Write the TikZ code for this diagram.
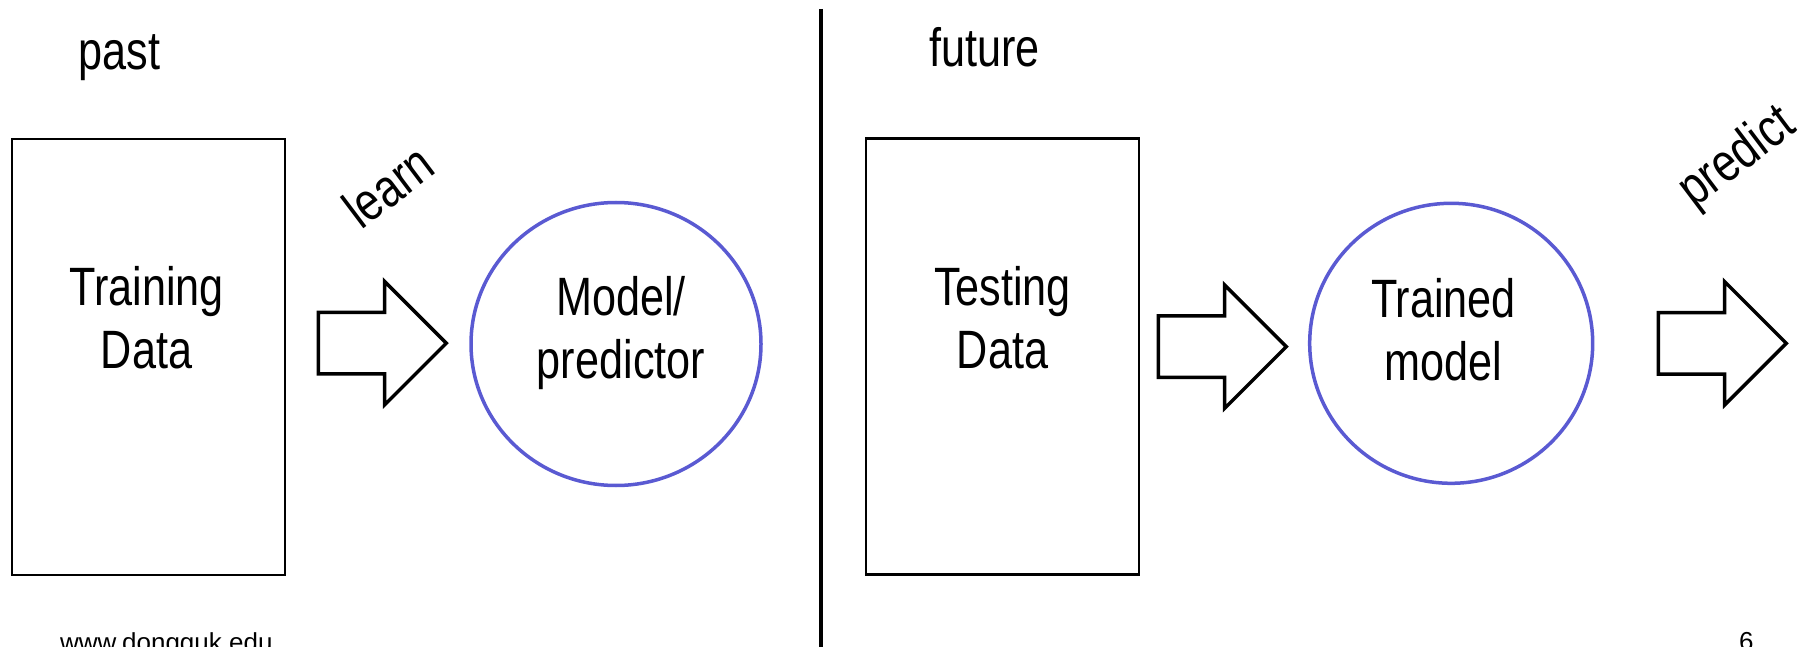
\documentclass[tikz,border=0pt]{standalone}
\usepackage{fontspec}
\setmainfont{Liberation Sans}[FakeStretch=0.8]
\newfontfamily\footfont{Liberation Sans}
\usetikzlibrary{shapes.geometric,shapes.arrows}
\definecolor{ringblue}{RGB}{90,90,210}

\begin{document}
\begin{tikzpicture}[x=1pt, y=-1pt,
  every node/.style={font=\fontsize{54}{63}\selectfont},
  databox/.style={rectangle, draw, line width=2.2pt, minimum width=273pt, minimum height=436pt},
  ring/.style={ellipse, draw=ringblue, line width=3.5pt},
  fatarrow/.style={single arrow, draw, line width=3.5pt, inner xsep=0pt, inner ysep=29pt,
    single arrow head extend=31pt, single arrow tip angle=90, minimum height=128pt},
  txt/.style={align=center, anchor=base},
  tilted/.style={rotate=37},
  foot/.style={font=\footfont\fontsize{26}{31}\selectfont, anchor=base}]
  \useasboundingbox (0,0) rectangle (1808,647);
  % Divider
  \coordinate (divtop) at (821,9);
  \coordinate (divbot) at (821,650);
  \draw[line width=4pt] (divtop) -- (divbot);
  % Past: learning
  \node[anchor=base west] (past) at (75,70) {past};
  \node[databox] (train) at (148.3,356.7) {};
  \node[txt] (traintxt) at (146.5,368.3) {Training\\Data};
  \node[fatarrow] (learnarrow) at (366.9,343.2) {};
  \node[tilted] (learn) at (388,186) {learn};
  \node[ring, minimum width=290pt, minimum height=283pt] (model) at (616,344) {};
  \node[txt] (modeltxt) at (621,378.3) {Model/\\predictor};
  % Future: prediction
  \node[anchor=base west] (future) at (926,67) {future};
  \node[databox] (test) at (1002.8,356.5) {};
  \node[txt] (testtxt) at (1002.5,368.3) {Testing\\Data};
  \node[fatarrow] (testarrow) at (1206.9,346.7) {};
  \node[ring, minimum width=283pt, minimum height=280pt] (trained) at (1451.2,343.3) {};
  \node[txt] (trainedtxt) at (1443.5,380) {Trained\\model};
  \node[fatarrow] (predictarrow) at (1706.9,343.3) {};
  \node[tilted] (predict) at (1738,158.5) {predict};
  % Footer
  \node[foot, anchor=base west] (site) at (56.5,651.5) {www.dongguk.edu};
  \node[foot] (page) at (1746.3,650) {6};
\end{tikzpicture}
\end{document}
